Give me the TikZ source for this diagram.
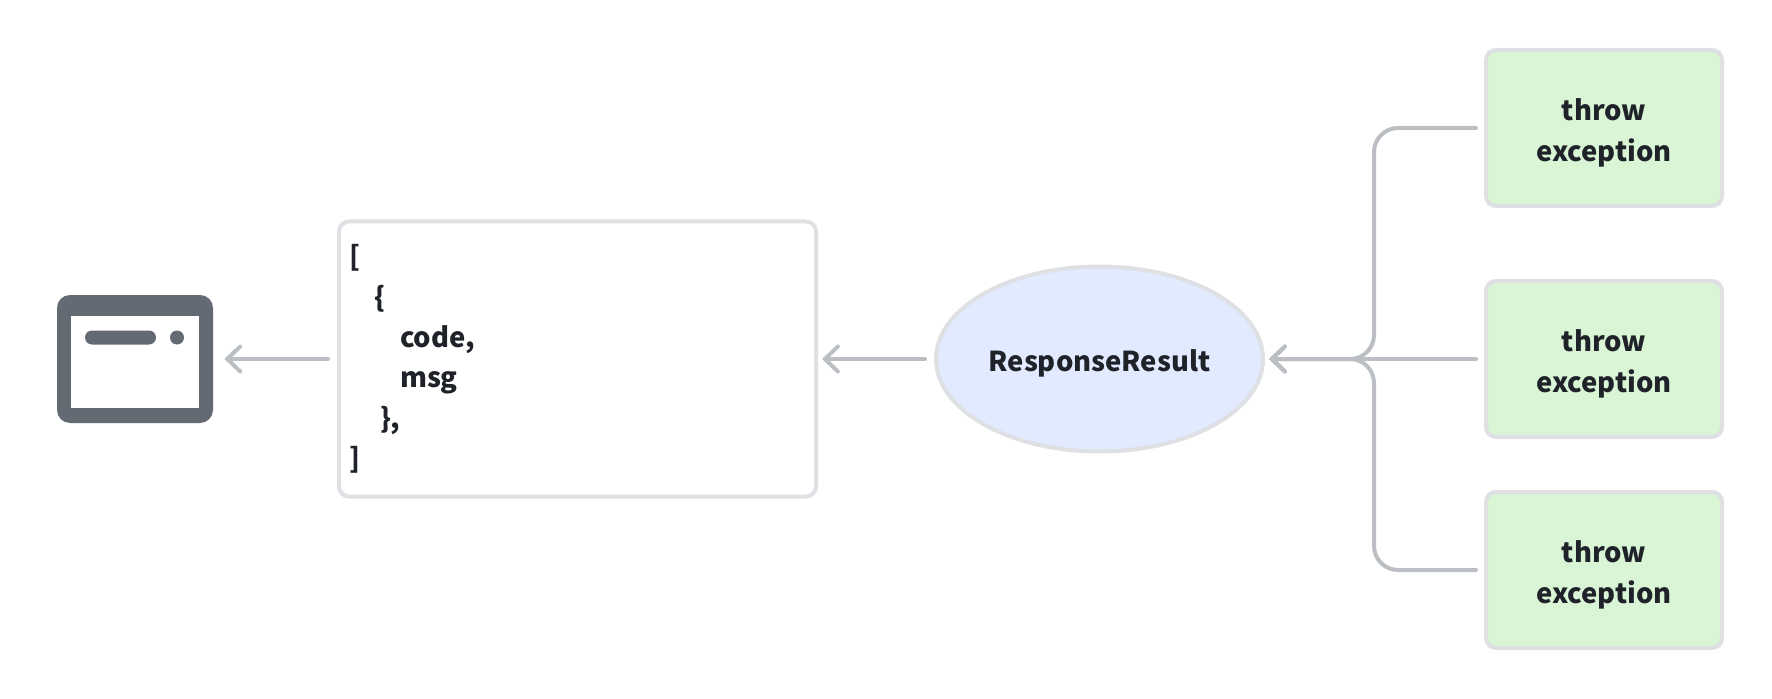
\documentclass[tikz,border=0pt]{standalone}
\usepackage{fontspec}
\setmainfont{Noto Sans CJK SC}
\usepackage{xcolor}
\usetikzlibrary{arrows.meta,shapes.geometric,positioning}
\definecolor{edgegray}{HTML}{DEE0E3}
\definecolor{linegray}{HTML}{BBBFC4}
\definecolor{icongray}{HTML}{646A73}
\definecolor{inkdark}{HTML}{1F2329}
\definecolor{throwgreen}{HTML}{D9F5D6}
\definecolor{resultblue}{HTML}{E1EAFF}
\newcommand{\lowerline}{\rule{0pt}{18pt}}
\tikzstyle{arr}      =[-{Straight Barb[length=0.26cm,width=0.5cm,line cap=round]}, line width=0.08cm, linegray, line cap=round, rounded corners=0.48cm]
\tikzstyle{throwbox} =[draw=edgegray, fill=throwgreen, line width=0.08cm, rounded corners=0.2cm, minimum width=4.72cm, minimum height=3.12cm, align=center]
\tikzstyle{iconpart} =[fill=icongray, inner sep=0pt]
\begin{document}
\begin{tikzpicture}[every node/.style={font=\fontsize{15.6pt}{23pt}\bfseries\selectfont, text=inkdark}]

  \useasboundingbox (0, 0) rectangle (35.44, 13.96);

  % ── nodes ─────────────────────────────────────────────────────────────────
  \node[iconpart, rounded corners=0.26cm, minimum width=3.12cm, minimum height=2.56cm] (app) at (2.70, 6.78) {};
  \node[fill=white, inner sep=0pt, minimum width=2.56cm, minimum height=1.84cm] (appwin) at (2.70, 6.72) {};
  \node[iconpart, rounded corners=0.14cm, minimum width=1.42cm, minimum height=0.28cm] (appbar) at (2.41, 7.21) {};
  \node[iconpart, circle, minimum size=0.28cm] (appdot) at (3.54, 7.21) {};

  \node[draw=edgegray, fill=white, line width=0.08cm, rounded corners=0.2cm, minimum height=5.5cm,
        text width=9.14cm, inner xsep=0.2cm, align=left] (json) at (11.55, 6.78)
        {[\\\hspace*{0.5cm}\{\\\hspace*{1.02cm}code,\\\hspace*{1.02cm}msg\\\hspace*{0.62cm}\},\\]};

  \node[draw=edgegray, fill=resultblue, line width=0.08cm, ellipse, inner sep=0pt,
        minimum width=6.54cm, minimum height=3.7cm] (result) at (21.99, 6.78) {\lowerline ResponseResult};

  \node[throwbox] (throwa) at (32.08, 11.40) {\lowerline throw\\exception};
  \node[throwbox] (throwb) at (32.08, 6.78)  {\lowerline throw\\exception};
  \node[throwbox] (throwc) at (32.08, 2.56)  {\lowerline throw\\exception};

  \coordinate (merge) at (27.48, 6.78);

  % ── arrows ────────────────────────────────────────────────────────────────
  \draw[arr, shorten <=0.18cm, shorten >=0.22cm] (json) -- (app);
  \draw[arr, shorten <=0.18cm, shorten >=0.08cm] (result) -- (json);
  \draw[arr, shorten <=0.16cm, shorten >=0.08cm] (throwb) -- (result);
  \draw[arr, shorten <=0.16cm, shorten >=0.08cm] (throwa.west) -| (merge) -- (result.east);
  \draw[arr, shorten <=0.16cm, shorten >=0.08cm] (throwc.west) -| (merge) -- (result.east);

\end{tikzpicture}
\end{document}
